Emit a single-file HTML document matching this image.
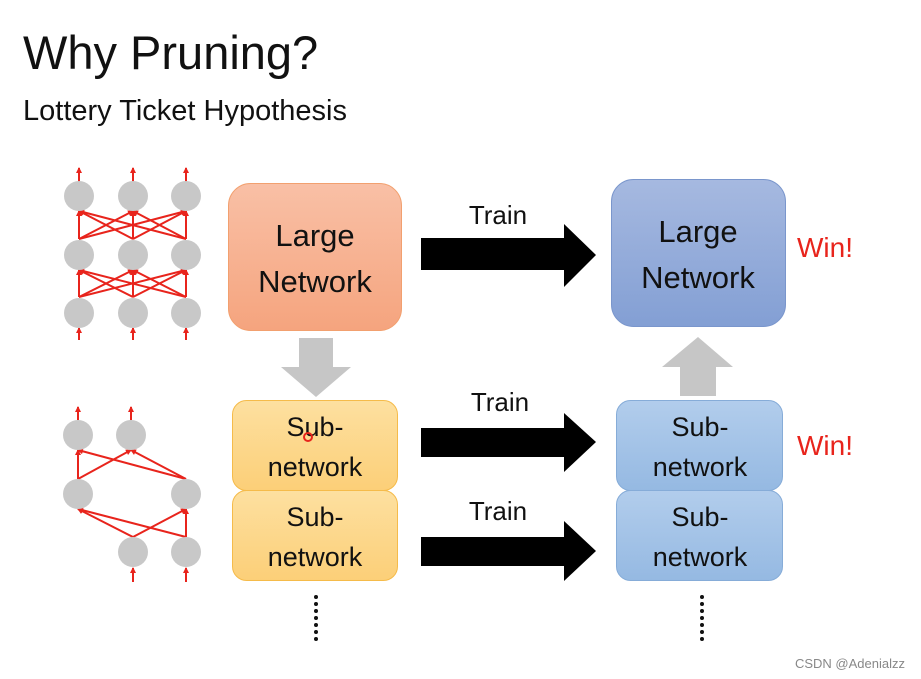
<!DOCTYPE html>
<html><head><meta charset="utf-8"><style>
body{margin:0;background:#fff}
svg{display:block}
text{font-family:"Liberation Sans","DejaVu Sans",sans-serif}
</style></head><body>
<svg width="921" height="679" viewBox="0 0 921 679" xmlns="http://www.w3.org/2000/svg">
<defs>
<linearGradient id="og" x1="0" y1="0" x2="0" y2="1"><stop offset="0" stop-color="#f9c0a6"/><stop offset="1" stop-color="#f5a47e"/></linearGradient>
<linearGradient id="yg" x1="0" y1="0" x2="0" y2="1"><stop offset="0" stop-color="#fde0a0"/><stop offset="1" stop-color="#fccf78"/></linearGradient>
<linearGradient id="bg" x1="0" y1="0" x2="0" y2="1"><stop offset="0" stop-color="#a6b9e0"/><stop offset="1" stop-color="#839fd4"/></linearGradient>
<linearGradient id="sg" x1="0" y1="0" x2="0" y2="1"><stop offset="0" stop-color="#b2cdec"/><stop offset="1" stop-color="#95b9e2"/></linearGradient>
<marker id="ah" markerWidth="6" markerHeight="6" refX="5" refY="3" orient="auto" markerUnits="userSpaceOnUse"><path d="M0,0 L6,3 L0,6 z" fill="#e8241c"/></marker>
</defs>
<text x="23" y="69" font-size="47" fill="#111">Why Pruning?</text>
<text x="23" y="120" font-size="29" fill="#111">Lottery Ticket Hypothesis</text>

<!-- top network -->
<g stroke="#e8241c" stroke-width="2" fill="none" marker-end="url(#ah)">
<line x1="79" y1="182" x2="79" y2="168"/><line x1="133" y1="182" x2="133" y2="168"/><line x1="186" y1="182" x2="186" y2="168"/>
<line x1="79" y1="340" x2="79" y2="328"/><line x1="133" y1="340" x2="133" y2="328"/><line x1="186" y1="340" x2="186" y2="328"/>
<line x1="79" y1="239" x2="79" y2="211"/><line x1="79" y1="239" x2="133" y2="211"/><line x1="79" y1="239" x2="186" y2="211"/>
<line x1="133" y1="239" x2="79" y2="211"/><line x1="133" y1="239" x2="133" y2="211"/><line x1="133" y1="239" x2="186" y2="211"/>
<line x1="186" y1="239" x2="79" y2="211"/><line x1="186" y1="239" x2="133" y2="211"/><line x1="186" y1="239" x2="186" y2="211"/>
<line x1="79" y1="297" x2="79" y2="270"/><line x1="79" y1="297" x2="133" y2="270"/><line x1="79" y1="297" x2="186" y2="270"/>
<line x1="133" y1="297" x2="79" y2="270"/><line x1="133" y1="297" x2="133" y2="270"/><line x1="133" y1="297" x2="186" y2="270"/>
<line x1="186" y1="297" x2="79" y2="270"/><line x1="186" y1="297" x2="133" y2="270"/><line x1="186" y1="297" x2="186" y2="270"/>
<!-- bottom network -->
<line x1="78" y1="420" x2="78" y2="407"/><line x1="131" y1="420" x2="131" y2="407"/>
<line x1="133" y1="582" x2="133" y2="568"/><line x1="186" y1="582" x2="186" y2="568"/>
<line x1="78" y1="479" x2="78" y2="450"/><line x1="78" y1="479" x2="131" y2="450"/>
<line x1="186" y1="479" x2="78" y2="450"/><line x1="186" y1="479" x2="131" y2="450"/>
<line x1="133" y1="537" x2="78" y2="509"/><line x1="133" y1="537" x2="186" y2="509"/>
<line x1="186" y1="537" x2="78" y2="509"/><line x1="186" y1="537" x2="186" y2="509"/>
</g>
<g fill="#c8c8c8">
<circle cx="79" cy="196" r="15"/><circle cx="133" cy="196" r="15"/><circle cx="186" cy="196" r="15"/>
<circle cx="79" cy="255" r="15"/><circle cx="133" cy="255" r="15"/><circle cx="186" cy="255" r="15"/>
<circle cx="79" cy="313" r="15"/><circle cx="133" cy="313" r="15"/><circle cx="186" cy="313" r="15"/>
<circle cx="78" cy="435" r="15"/><circle cx="131" cy="435" r="15"/>
<circle cx="78" cy="494" r="15"/><circle cx="186" cy="494" r="15"/>
<circle cx="133" cy="552" r="15"/><circle cx="186" cy="552" r="15"/>
</g>

<!-- boxes -->
<rect x="228.5" y="183.5" width="173" height="147" rx="22" fill="url(#og)" stroke="#f2a06f"/>
<text x="315" y="246" font-size="31" text-anchor="middle" fill="#111">Large</text>
<text x="315" y="292" font-size="31" text-anchor="middle" fill="#111">Network</text>

<polygon points="299,338 333,338 333,367 351,367 316,397 281,367 299,367" fill="#c6c6c6"/>

<rect x="232.5" y="400.5" width="165" height="90" rx="14" fill="url(#yg)" stroke="#f5bb4a"/>
<text x="315" y="436" font-size="27" text-anchor="middle" fill="#111">Sub-</text>
<text x="315" y="476" font-size="27" text-anchor="middle" fill="#111">network</text>
<circle cx="308" cy="437" r="4" fill="none" stroke="#e8241c" stroke-width="2"/>
<rect x="232.5" y="490.5" width="165" height="90" rx="14" fill="url(#yg)" stroke="#f5bb4a"/>
<text x="315" y="526" font-size="27" text-anchor="middle" fill="#111">Sub-</text>
<text x="315" y="566" font-size="27" text-anchor="middle" fill="#111">network</text>

<rect x="611.5" y="179.5" width="174" height="147" rx="22" fill="url(#bg)" stroke="#7a96cc"/>
<text x="698" y="242" font-size="31" text-anchor="middle" fill="#111">Large</text>
<text x="698" y="288" font-size="31" text-anchor="middle" fill="#111">Network</text>

<polygon points="698,337 733,367 716,367 716,396 680,396 680,367 662,367" fill="#c6c6c6"/>

<rect x="616.5" y="400.5" width="166" height="90" rx="14" fill="url(#sg)" stroke="#86acd8"/>
<text x="700" y="436" font-size="27" text-anchor="middle" fill="#111">Sub-</text>
<text x="700" y="476" font-size="27" text-anchor="middle" fill="#111">network</text>
<rect x="616.5" y="490.5" width="166" height="90" rx="14" fill="url(#sg)" stroke="#86acd8"/>
<text x="700" y="526" font-size="27" text-anchor="middle" fill="#111">Sub-</text>
<text x="700" y="566" font-size="27" text-anchor="middle" fill="#111">network</text>

<!-- black arrows -->
<polygon points="421,238 564,238 564,224 596,255 564,287 564,270 421,270" fill="#000"/>
<polygon points="421,428 564,428 564,413 596,442 564,472 564,457 421,457" fill="#000"/>
<polygon points="421,537 564,537 564,521 596,551 564,581 564,566 421,566" fill="#000"/>
<text x="498" y="224" font-size="26" text-anchor="middle" fill="#111">Train</text>
<text x="500" y="411" font-size="26" text-anchor="middle" fill="#111">Train</text>
<text x="498" y="520" font-size="26" text-anchor="middle" fill="#111">Train</text>

<text x="797" y="257" font-size="28" fill="#e8241c">Win!</text>
<text x="797" y="455" font-size="28" fill="#e8241c">Win!</text>

<g fill="#111">
<circle cx="316" cy="597" r="2"/><circle cx="316" cy="604" r="2"/><circle cx="316" cy="611" r="2"/><circle cx="316" cy="618" r="2"/><circle cx="316" cy="625" r="2"/><circle cx="316" cy="632" r="2"/><circle cx="316" cy="639" r="2"/>
<circle cx="702" cy="597" r="2"/><circle cx="702" cy="604" r="2"/><circle cx="702" cy="611" r="2"/><circle cx="702" cy="618" r="2"/><circle cx="702" cy="625" r="2"/><circle cx="702" cy="632" r="2"/><circle cx="702" cy="639" r="2"/>
</g>
<text x="905" y="668" font-size="13" text-anchor="end" fill="#888">CSDN @Adenialzz</text>
</svg>
</body></html>
